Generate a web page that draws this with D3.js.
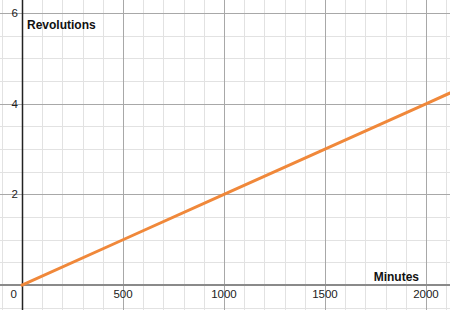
<!DOCTYPE html>
<html>
<head>
<meta charset="utf-8">
<script src="https://cdn.jsdelivr.net/npm/d3@7"></script>
<style>
  html, body { margin: 0; padding: 0; background: #fff; }
  svg { display: block; font-family: "Liberation Sans", Arial, sans-serif; }
</style>
</head>
<body>
<svg id="chart" width="450" height="310"></svg>
<script>
// data
const minutes = [0, 500, 1000, 1500, 2000, 2200];
const revolutions = [0, 1, 2, 3, 4, 4.4];
const xTickLabels = [0, 500, 1000, 1500, 2000];
const yTickLabels = [2, 4, 6];

const width = 450, height = 310;
const svg = d3.select("#chart");

// view window (Desmos style, axes cross inside the plot)
const x = d3.scaleLinear().domain([-109, 2119]).range([0, width]);
const y = d3.scaleLinear().domain([-0.55, 6.29]).range([height, 0]);

const minorX = d3.range(-100, 2200, 100);
const minorY = d3.range(-0.5, 6.5, 0.5);
const majorX = d3.range(-500, 2500, 500).filter(v => v !== 0);
const majorY = d3.range(-2, 8, 2).filter(v => v !== 0);

// minor grid
const grid = svg.append("g").attr("shape-rendering", "crispEdges");
grid.selectAll("line.mx").data(minorX).join("line")
    .attr("x1", d => Math.round(x(d)) + 0.5).attr("x2", d => Math.round(x(d)) + 0.5)
    .attr("y1", 0).attr("y2", height)
    .attr("stroke", "#e2e2e2").attr("stroke-width", 1);
grid.selectAll("line.my").data(minorY).join("line")
    .attr("y1", d => Math.round(y(d)) + 0.5).attr("y2", d => Math.round(y(d)) + 0.5)
    .attr("x1", 0).attr("x2", width)
    .attr("stroke", "#e2e2e2").attr("stroke-width", 1);

// major grid
grid.selectAll("line.Mx").data(majorX).join("line")
    .attr("x1", d => Math.round(x(d)) + 0.5).attr("x2", d => Math.round(x(d)) + 0.5)
    .attr("y1", 0).attr("y2", height)
    .attr("stroke", "#a8a8a8").attr("stroke-width", 1);
grid.selectAll("line.My").data(majorY).join("line")
    .attr("y1", d => Math.round(y(d)) + 0.5).attr("y2", d => Math.round(y(d)) + 0.5)
    .attr("x1", 0).attr("x2", width)
    .attr("stroke", "#a8a8a8").attr("stroke-width", 1);

// axes
svg.append("line")
    .attr("x1", 0).attr("x2", width)
    .attr("y1", Math.round(y(0))).attr("y2", Math.round(y(0)))
    .attr("stroke", "#8a8a8a").attr("stroke-width", 2);
svg.append("line")
    .attr("x1", Math.round(x(0)) + 0.5).attr("x2", Math.round(x(0)) + 0.5)
    .attr("y1", 0).attr("y2", height)
    .attr("stroke", "#222").attr("stroke-width", 1.5);

// tick labels
svg.append("g").selectAll("text").data(xTickLabels).join("text")
    .attr("x", d => d === 0 ? x(0) - 5 : x(d))
    .attr("y", y(0) + 13)
    .attr("text-anchor", d => d === 0 ? "end" : "middle")
    .attr("font-size", 11.5).attr("fill", "#222")
    .text(d => d);
svg.append("g").selectAll("text").data(yTickLabels).join("text")
    .attr("x", x(0) - 4)
    .attr("y", d => y(d) + 4)
    .attr("text-anchor", "end")
    .attr("font-size", 11.5).attr("fill", "#222")
    .text(d => d);

// axis titles
svg.append("text")
    .attr("x", x(0) + 5).attr("y", 29)
    .attr("font-size", 12).attr("font-weight", "bold").attr("fill", "#111")
    .text("Revolutions");
svg.append("text")
    .attr("x", 419).attr("y", y(0) - 4)
    .attr("text-anchor", "end")
    .attr("font-size", 12).attr("font-weight", "bold").attr("fill", "#111")
    .text("Minutes");

// line
svg.append("clipPath").attr("id", "clip")
    .append("rect").attr("width", width).attr("height", height);
const pts = minutes.map((m, i) => [m, revolutions[i]]);
svg.append("path")
    .datum(pts)
    .attr("clip-path", "url(#clip)")
    .attr("fill", "none")
    .attr("stroke", "#f0883a")
    .attr("stroke-width", 3)
    .attr("stroke-linecap", "round")
    .attr("d", d3.line().x(d => x(d[0])).y(d => y(d[1])));
</script>
</body>
</html>
